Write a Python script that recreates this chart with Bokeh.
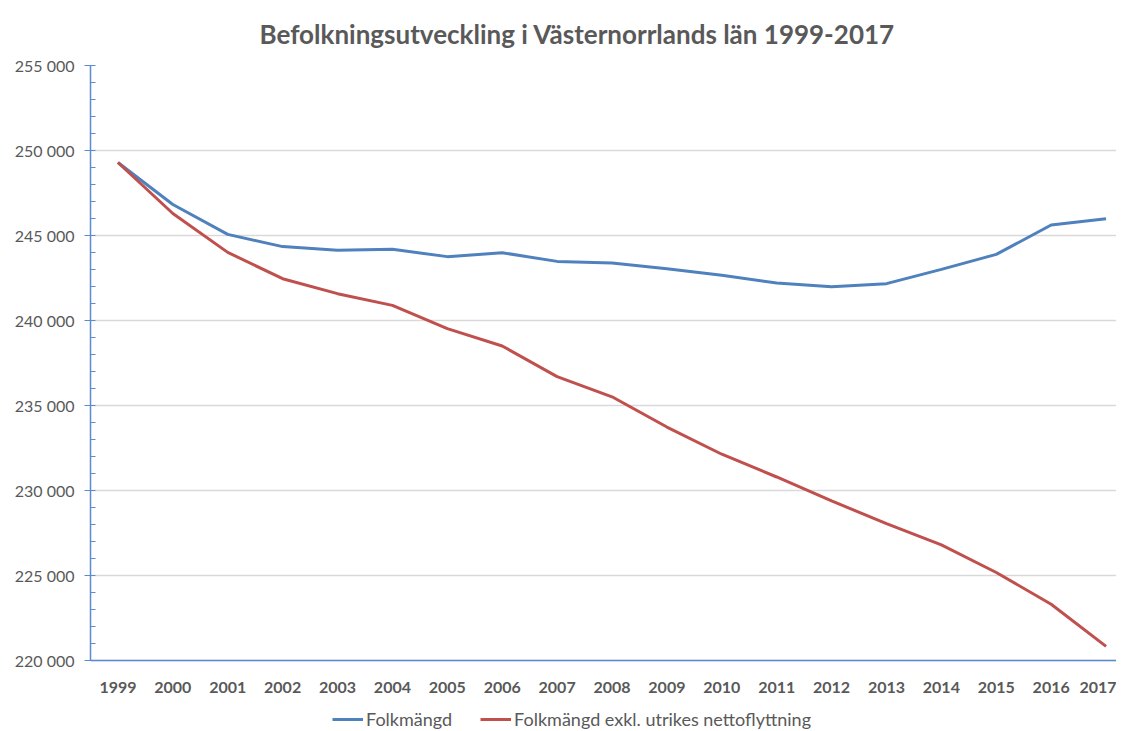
from bokeh.plotting import figure
from bokeh.models import Range1d, FixedTicker, Legend, LegendItem
from bokeh.embed import file_html
from bokeh.resources import INLINE

years = [1999, 2000, 2001, 2002, 2003, 2004, 2005, 2006, 2007, 2008,
         2009, 2010, 2011, 2012, 2013, 2014, 2015, 2016, 2017]
folkmangd = [249290, 246820, 245060, 244340, 244120, 244180, 243750, 243980,
             243470, 243370, 243040, 242650, 242200, 241980, 242160, 243000,
             243880, 245610, 245980]
exkl_utrikes = [249290, 246290, 244000, 242450, 241570, 240880, 239510, 238490,
                236690, 235500, 233720, 232120, 230780, 229370, 228040, 226780,
                225160, 223290, 220810]
y_ticks = [220000, 225000, 230000, 235000, 240000, 245000, 250000, 255000]
y_labels = ["220 000", "225 000", "230 000", "235 000", "240 000",
            "245 000", "250 000", "255 000"]
series_names = ["Folkmängd", "Folkmängd exkl. utrikes nettoflyttning"]
title_text = "Befolkningsutveckling i Västernorrlands län 1999-2017"

FONT = "Lato"
GREY = "#595959"
AXIS_BLUE = "#5B8BD0"

# frame extends below the axis minimum so the legend can sit inside it
p = figure(frame_width=1026, frame_height=666,
           x_range=Range1d(1998.5, 2017.19), y_range=Range1d(215800, 255000),
           output_backend="svg", toolbar_location=None,
           min_border_left=90, min_border_right=0, min_border_top=0,
           min_border_bottom=0)
p.outline_line_color = None
p.background_fill_color = "white"

p.title.text = title_text
p.title.align = "left"
p.title.offset = 169
p.title.text_font = FONT
p.title.text_font_size = "26px"
p.title.text_font_style = "bold"
p.title.text_color = GREY
p.title.standoff = 31

r1 = p.line(years, folkmangd, line_color="#4F81BD", line_width=3)
r2 = p.line(years, exkl_utrikes, line_color="#C0504D", line_width=3)

# y axis
minor = [v for v in range(y_ticks[0], y_ticks[-1] + 1, 1000) if v not in y_ticks]
p.yaxis.ticker = FixedTicker(ticks=y_ticks, minor_ticks=minor)
p.yaxis.bounds = (y_ticks[0], y_ticks[-1])
p.yaxis.major_label_overrides = {t: l for t, l in zip(y_ticks, y_labels)}
p.yaxis.axis_line_color = AXIS_BLUE
p.yaxis.axis_line_width = 1.5
p.yaxis.major_tick_line_color = AXIS_BLUE
p.yaxis.minor_tick_line_color = AXIS_BLUE
p.yaxis.major_tick_in = 5
p.yaxis.major_tick_out = 6
p.yaxis.minor_tick_in = 5
p.yaxis.minor_tick_out = 0
p.yaxis.major_label_standoff = 10
p.yaxis.major_label_text_font = FONT
p.yaxis.major_label_text_font_size = "16px"
p.yaxis.major_label_text_color = GREY

# x axis, drawn at the bottom of the value range
p.xaxis.fixed_location = y_ticks[0]
p.xaxis.ticker = FixedTicker(ticks=years)
p.xaxis.axis_line_color = AXIS_BLUE
p.xaxis.axis_line_width = 1.5
p.xaxis.major_tick_line_color = None
p.xaxis.minor_tick_line_color = None
p.xaxis.major_tick_in = 0
p.xaxis.major_tick_out = 0
p.xaxis.major_label_standoff = 22
p.xaxis.major_label_text_font = FONT
p.xaxis.major_label_text_font_size = "16px"
p.xaxis.major_label_text_font_style = "bold"
p.xaxis.major_label_text_color = GREY

p.xgrid.grid_line_color = None
p.ygrid.grid_line_color = "#D9D9D9"
p.ygrid.grid_line_width = 1.5

legend = Legend(items=[LegendItem(label=series_names[0], renderers=[r1]),
                       LegendItem(label=series_names[1], renderers=[r2])],
                orientation="horizontal", location=(242, 1),
                border_line_color=None, background_fill_alpha=0,
                label_text_font=FONT, label_text_font_size="18px",
                label_text_color=GREY, label_standoff=3,
                glyph_width=31, glyph_height=16, label_height=16,
                spacing=28, padding=2, margin=0)
p.add_layout(legend, "center")

open("out.html", "w").write(file_html(p, INLINE))
